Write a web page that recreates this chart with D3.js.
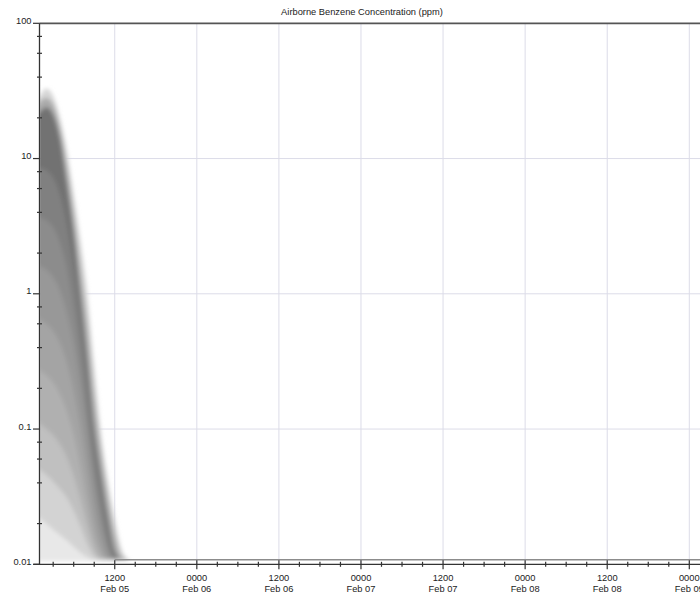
<!DOCTYPE html>
<html>
<head>
<meta charset="utf-8">
<script src="https://cdn.jsdelivr.net/npm/d3@7"></script>
<style>
  html, body { margin: 0; padding: 0; background: #fff; overflow: hidden; }
  svg { display: block; }
  text { font-family: "Liberation Sans", Arial, sans-serif; fill: #222; }
</style>
</head>
<body>
<svg id="chart" width="700" height="598"></svg>
<script>
// ---------------- data (hours since Feb 05 00:00) ----------------
const title = "Airborne Benzene Concentration (ppm)";
const hours = [0.5, 1, 2, 3, 4, 5, 6, 7, 8, 9, 10, 11, 12, 13, 14];
// ensemble percentile curves (ppm), read from the shaded plume
const pMax = [27, 29, 33, 29, 20, 11.5, 5.5, 2.5, 1.0, 0.3, 0.095, 0.042, 0.022, 0.013, 0.0108];
const p95  = [24, 26, 28, 25, 17, 9, 4, 1.6, 0.6, 0.18, 0.07, 0.032, 0.017, 0.0115, 0.0108];
const p90  = [21, 22, 24, 21, 14, 6.5, 2.8, 0.95, 0.32, 0.1, 0.045, 0.022, 0.0125, 0.0108, 0.0108];
const p80  = [8.5, 8.5, 8.2, 7.2, 5.4, 3.2, 1.5, 0.6, 0.22, 0.075, 0.035, 0.018, 0.0115, 0.0108, 0.0108];
const p70  = [3.8, 3.7, 3.5, 3.1, 2.4, 1.55, 0.78, 0.34, 0.13, 0.05, 0.025, 0.014, 0.011, 0.0108, 0.0108];
const p60  = [1.65, 1.6, 1.5, 1.32, 1.05, 0.72, 0.42, 0.2, 0.085, 0.036, 0.019, 0.0125, 0.0108, 0.0108, 0.0108];
const p50  = [0.68, 0.65, 0.6, 0.53, 0.43, 0.31, 0.19, 0.1, 0.048, 0.023, 0.014, 0.011, 0.0108, 0.0108, 0.0108];
const p40  = [0.28, 0.27, 0.25, 0.22, 0.18, 0.135, 0.09, 0.052, 0.028, 0.016, 0.012, 0.0108, 0.0108, 0.0108, 0.0108];
const p30  = [0.115, 0.11, 0.1, 0.09, 0.077, 0.062, 0.045, 0.03, 0.019, 0.013, 0.011, 0.0108, 0.0108, 0.0108, 0.0108];
const p20  = [0.052, 0.05, 0.046, 0.041, 0.036, 0.031, 0.025, 0.019, 0.014, 0.0115, 0.0108, 0.0108, 0.0108, 0.0108, 0.0108];
const p10  = [0.023, 0.022, 0.02, 0.018, 0.0165, 0.015, 0.0135, 0.0122, 0.0113, 0.0108, 0.0108, 0.0108, 0.0108, 0.0108, 0.0108];
const pMin = [0.0108, 0.0108, 0.0108, 0.0108, 0.0108, 0.0108, 0.0108, 0.0108, 0.0108, 0.0108, 0.0108, 0.0108, 0.0108, 0.0108, 0.0108];
const floorHours = [12, 102];
const floorValues = [0.0108, 0.0108];

const xTickHours = [12, 24, 36, 48, 60, 72, 84, 96];
const xTickTop = ["1200", "0000", "1200", "0000", "1200", "0000", "1200", "0000"];
const xTickBottom = ["Feb 05", "Feb 06", "Feb 06", "Feb 07", "Feb 07", "Feb 08", "Feb 08", "Feb 09"];
const yTicks = [0.01, 0.1, 1, 10, 100];
const yTickLabels = ["0.01", "0.1", "1", "10", "100"];

// ---------------- styling ----------------
const bandSeries = [pMax, p95, p90, p80, p70, p60, p50, p40, p30, p20, p10];
const bandColors = ["#d6d6d6", "#aaaaaa", "#727272", "#808080", "#8c8c8c", "#989898",
                    "#a4a4a4", "#b0b0b0", "#c0c0c0", "#d3d3d3", "#e8e8e8"];

const svg = d3.select("#chart");
const mLeft = 39.5, mTop = 23.3, mBottom = 564.3, mRight = 700;
const pxPerHour = 6.84;
const x = d3.scaleLinear().domain([1, 102]).range([mLeft, mLeft + 101 * pxPerHour]);
const y = d3.scaleLog().domain([0.01, 100]).range([mBottom, mTop]);

// grid
const grid = svg.append("g");
grid.selectAll("line.v").data(xTickHours).join("line")
  .attr("x1", d => x(d)).attr("x2", d => x(d))
  .attr("y1", mTop).attr("y2", mBottom)
  .attr("stroke", "#dcdce8").attr("stroke-width", 1);
grid.selectAll("line.h").data([0.1, 1, 10]).join("line")
  .attr("x1", mLeft).attr("x2", mRight)
  .attr("y1", d => y(d)).attr("y2", d => y(d))
  .attr("stroke", "#dcdce8").attr("stroke-width", 1);

// plume
const defs = svg.append("defs");
defs.append("clipPath").attr("id", "clip").append("rect")
  .attr("x", mLeft + 0.7).attr("y", mTop + 1).attr("width", mRight - mLeft).attr("height", mBottom - mTop - 2.5);
defs.append("filter").attr("id", "soft").attr("x", "-10%").attr("y", "-5%").attr("width", "120%").attr("height", "110%")
  .append("feGaussianBlur").attr("stdDeviation", 2);

const plumeClip = svg.append("g").attr("clip-path", "url(#clip)");
const plume = plumeClip.append("g").attr("filter", "url(#soft)");

bandSeries.forEach((s, i) => {
  const area = d3.area()
    .x((d, j) => x(hours[j]))
    .y0((d, j) => y(pMin[j]) + 1)
    .y1(d => y(d))
    .curve(d3.curveMonotoneX);
  plume.append("path").datum(s).attr("d", area).attr("fill", bandColors[i]);
});

// floor line
const floorLine = d3.line().x((d, j) => x(floorHours[j])).y(d => y(d));
plumeClip.append("path").datum(floorValues).attr("d", floorLine)
  .attr("fill", "none").attr("stroke", "#8c8c8c").attr("stroke-width", 1.6);

// top border
svg.append("line").attr("x1", mLeft).attr("x2", mRight).attr("y1", mTop).attr("y2", mTop)
  .attr("stroke", "#555").attr("stroke-width", 1.8);

// y axis
const yAxis = svg.append("g");
yAxis.append("line").attr("x1", mLeft).attr("x2", mLeft).attr("y1", mTop).attr("y2", mBottom)
  .attr("stroke", "#333").attr("stroke-width", 1.3);
const yMinor = [];
[0.01, 0.1, 1, 10].forEach(b => [2, 4, 6, 8].forEach(m => yMinor.push(b * m)));
yAxis.selectAll("line.minor").data(yMinor).join("line")
  .attr("x1", mLeft - 2.5).attr("x2", mLeft + 2.5)
  .attr("y1", d => y(d)).attr("y2", d => y(d))
  .attr("stroke", "#333").attr("stroke-width", 1.2);
yAxis.selectAll("line.major").data(yTicks).join("line")
  .attr("x1", mLeft - 6.5).attr("x2", mLeft)
  .attr("y1", d => y(d)).attr("y2", d => y(d))
  .attr("stroke", "#333").attr("stroke-width", 1.2);
yAxis.selectAll("text").data(yTicks).join("text")
  .attr("x", 31.5).attr("y", d => y(d) + 0.5)
  .attr("text-anchor", "end").attr("font-size", "9.3px")
  .text((d, i) => yTickLabels[i]);

// x axis
const xAxis = svg.append("g");
xAxis.append("line").attr("x1", mLeft - 6).attr("x2", mRight).attr("y1", mBottom).attr("y2", mBottom)
  .attr("stroke", "#333").attr("stroke-width", 1.3);
const xMinor = d3.range(3, 103, 3).filter(h => h % 12 !== 0);
xAxis.selectAll("line.minor").data(xMinor).join("line")
  .attr("x1", d => x(d)).attr("x2", d => x(d))
  .attr("y1", mBottom - 2.5).attr("y2", mBottom + 2.5)
  .attr("stroke", "#333").attr("stroke-width", 1.2);
xAxis.selectAll("line.major").data(xTickHours).join("line")
  .attr("x1", d => x(d)).attr("x2", d => x(d))
  .attr("y1", mBottom - 4).attr("y2", mBottom + 5)
  .attr("stroke", "#333").attr("stroke-width", 1.2);
const xl = xAxis.selectAll("text").data(xTickHours).join("text")
  .attr("x", d => x(d)).attr("text-anchor", "middle").attr("font-size", "9.3px");
xl.append("tspan").attr("x", d => x(d)).attr("y", 580.5).text((d, i) => xTickTop[i]);
xl.append("tspan").attr("x", d => x(d)).attr("y", 591.5).text((d, i) => xTickBottom[i]);

// title
svg.append("text").attr("x", 362).attr("y", 14.5).attr("text-anchor", "middle")
  .attr("font-size", "9.3px").text(title);
</script>
</body>
</html>
